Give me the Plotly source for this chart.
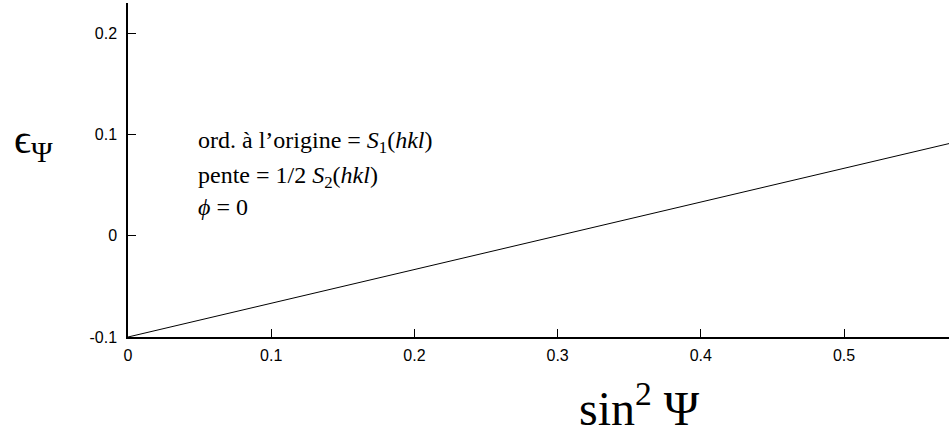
import plotly.graph_objects as go

# data
sin2_psi = [0.0, 0.5733]
eps_psi = [-0.1, 0.0911]

x_ticks = [0, 0.1, 0.2, 0.3, 0.4, 0.5]
x_tick_labels = ["0", "0.1", "0.2", "0.3", "0.4", "0.5"]
y_ticks = [-0.1, 0, 0.1, 0.2]
y_tick_labels = ["-0.1", "0", "0.1", "0.2"]

x_range = [0, 0.5733]
y_range = [-0.1, 0.23]

serif = "Liberation Serif, Times New Roman, serif"
sans = "Liberation Sans, Arial, Helvetica, sans-serif"

fig = go.Figure()
fig.add_trace(go.Scatter(x=sin2_psi, y=eps_psi, mode="lines",
                         line=dict(color="black", width=1), hoverinfo="skip",
                         showlegend=False, cliponaxis=False))

axis_common = dict(showgrid=False, zeroline=False, showline=True, linecolor="black",
                   linewidth=1.5, ticks="inside", ticklen=8, tickwidth=1, tickcolor="black",
                   tickfont=dict(family=sans, size=16, color="black"))

fig.update_xaxes(range=x_range, tickvals=x_ticks, ticktext=x_tick_labels,
                 ticklabelstandoff=3, **axis_common)
fig.update_yaxes(range=y_range, tickvals=y_ticks, ticktext=y_tick_labels,
                 ticklabelstandoff=6, **axis_common)

annotations = [
    dict(text="ord. à l’origine = <i>S</i><sub>1</sub>(<i>hkl</i>)", x=0.0828, y=0.585),
    dict(text="pente = 1/2 <i>S</i><sub>2</sub>(<i>hkl</i>)", x=0.0828, y=0.48),
    dict(text="<i>ϕ</i> = 0", x=0.0828, y=0.39),
]
for a in annotations:
    fig.add_annotation(text=a["text"], x=a["x"], y=a["y"], xref="paper", yref="paper",
                       xanchor="left", yanchor="middle", showarrow=False,
                       font=dict(family=serif, size=24, color="black"))

fig.add_annotation(text="ϵ<sub>Ψ</sub>", x=-0.1145, y=0.585, xref="paper", yref="paper",
                   xanchor="center", yanchor="middle", showarrow=False,
                   font=dict(family=serif, size=42, color="black"))
fig.add_annotation(text="sin<sup>2</sup> Ψ", x=0.6236, y=-0.205, xref="paper", yref="paper",
                   xanchor="center", yanchor="middle", showarrow=False,
                   font=dict(family=serif, size=48, color="black"))

fig.update_layout(width=949, height=436, margin=dict(l=128, r=0, t=3, b=99),
                  paper_bgcolor="white", plot_bgcolor="white")

fig.write_html("out.html", config={"displayModeBar": False},
               post_script="document.body.style.margin='0';document.body.style.overflow='hidden';")
